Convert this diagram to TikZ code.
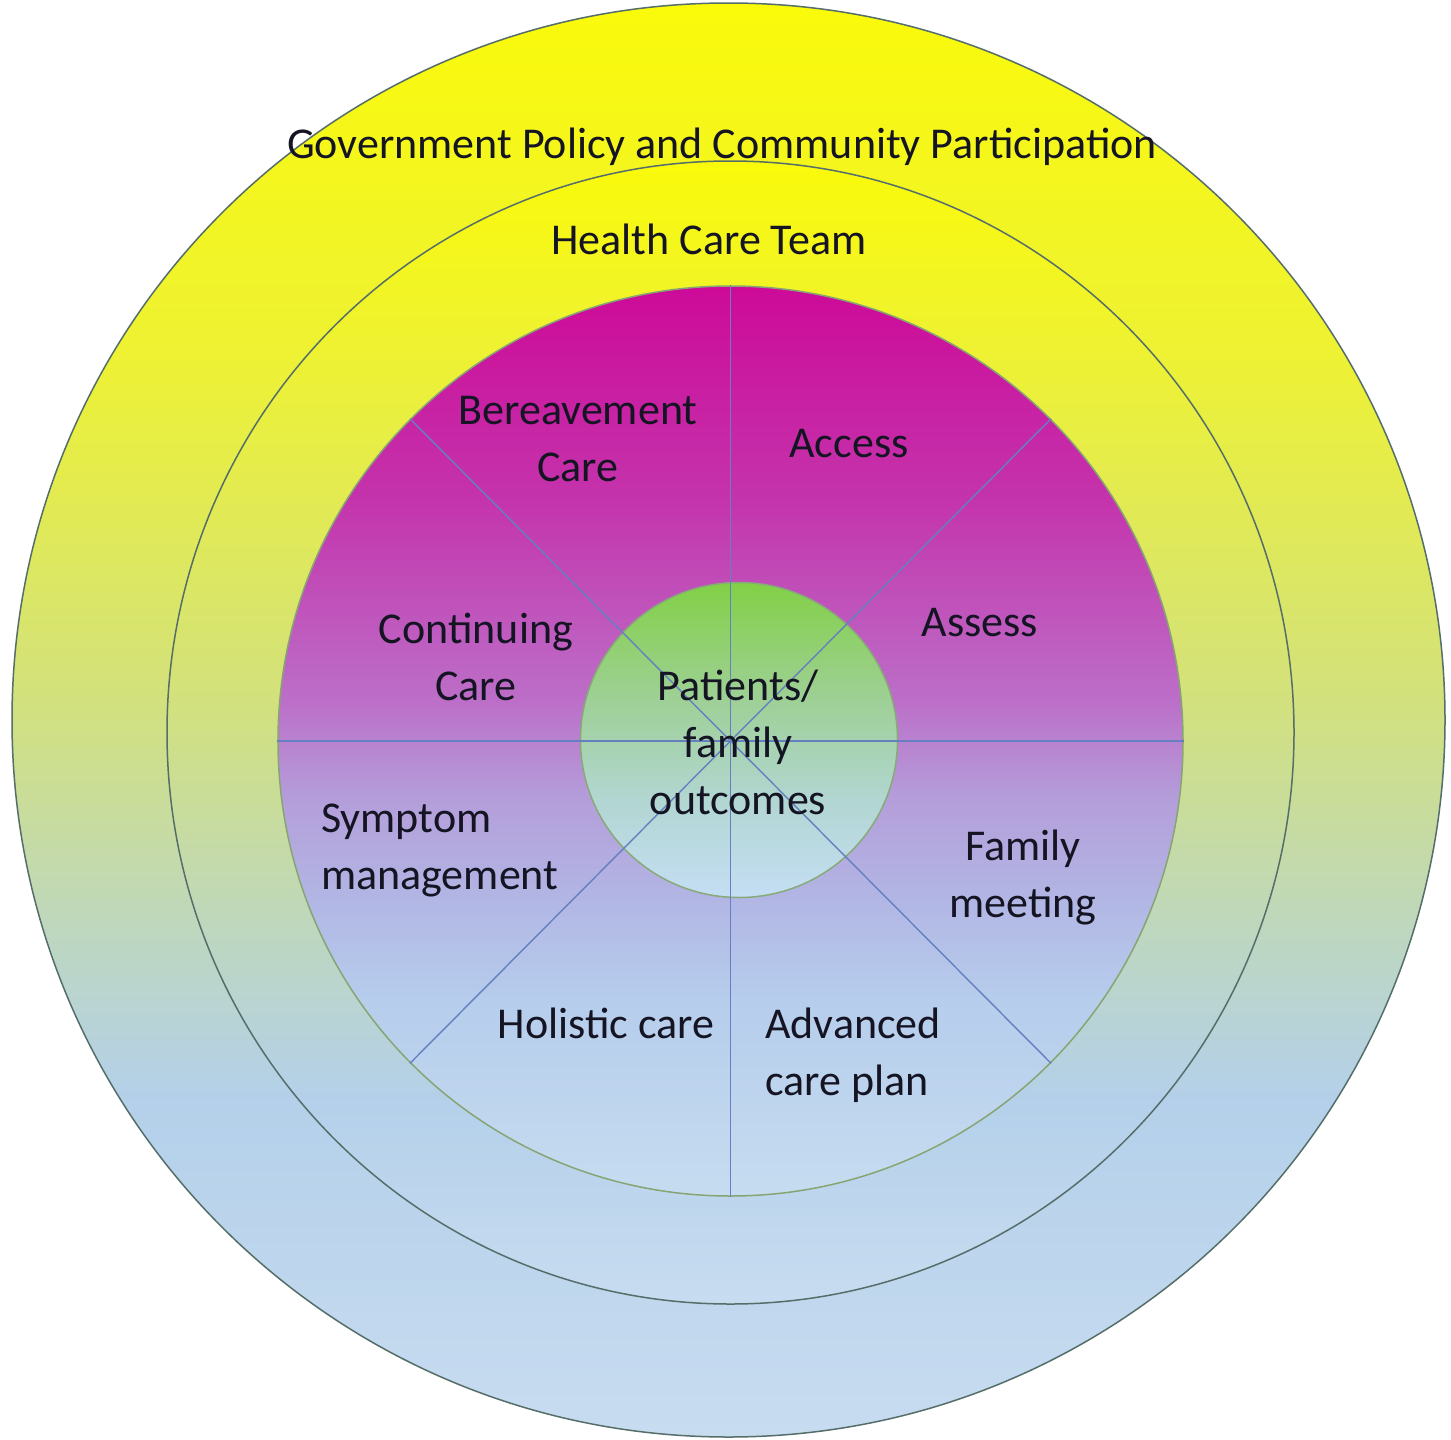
\documentclass[tikz,border=0pt]{standalone}
\usepackage{fontspec}
\setmainfont{Carlito}
\usetikzlibrary{shapes.geometric}
\definecolor{txt}{RGB}{20,20,35}
\definecolor{ringline}{RGB}{85,110,105}
\definecolor{magline}{RGB}{135,165,115}
\definecolor{grnline}{RGB}{135,170,120}
\definecolor{spoke}{RGB}{100,128,192}
% outer rings
\definecolor{oca}{RGB}{250,250,10}
\definecolor{ocb}{RGB}{238,242,50}
\definecolor{occ}{RGB}{210,225,125}
\definecolor{ocd}{RGB}{188,214,196}
\definecolor{oce}{RGB}{180,208,234}
\definecolor{ocf}{RGB}{200,220,240}
% magenta
\definecolor{mca}{RGB}{205,10,152}
\definecolor{mcb}{RGB}{196,52,172}
\definecolor{mcc}{RGB}{188,110,200}
\definecolor{mcd}{RGB}{180,158,218}
\definecolor{mce}{RGB}{178,182,228}
\definecolor{mcf}{RGB}{182,205,236}
\definecolor{mcg}{RGB}{198,220,240}
% green
\definecolor{gca}{RGB}{130,208,70}
\definecolor{gcb}{RGB}{158,208,150}
\definecolor{gcc}{RGB}{178,214,210}
\definecolor{gcd}{RGB}{196,222,244}
\pgfdeclareverticalshading{outershade}{100bp}{color(0bp)=(ocf); color(25bp)=(ocf); color(36.75bp)=(oce); color(42bp)=(ocd); color(50.7bp)=(occ); color(62.9bp)=(ocb); color(75bp)=(oca); color(100bp)=(oca)}
\pgfdeclareverticalshading{hctshade}{100bp}{color(0bp)=(ocf); color(25bp)=(ocf); color(33.9bp)=(oce); color(40.5bp)=(ocd); color(51.4bp)=(occ); color(66.7bp)=(ocb); color(75bp)=(oca); color(100bp)=(oca)}
\pgfdeclareverticalshading{magshade}{100bp}{color(0bp)=(mcg); color(25bp)=(mcg); color(35.8bp)=(mcf); color(41.3bp)=(mce); color(46.8bp)=(mcd); color(52.3bp)=(mcc); color(63.2bp)=(mcb); color(75bp)=(mca); color(100bp)=(mca)}
\pgfdeclareverticalshading{grnshade}{100bp}{color(0bp)=(gcd); color(25bp)=(gcd); color(40.4bp)=(gcc); color(56.4bp)=(gcb); color(75bp)=(gca); color(100bp)=(gca)}
\newcommand\lblfont{\fontsize{44}{57}\selectfont}
\newcommand\mylines[2]{\begin{tabular}[t]{@{}#1@{}}#2\end{tabular}}
\begin{document}
\begin{tikzpicture}[x=1pt,y=-1pt,
  ringnode/.style={ellipse, inner sep=0pt, line width=1.5pt, shade},
  lbl/.style={anchor=base, inner sep=0pt, text=txt, font=\lblfont},
  lblw/.style={anchor=base west, inner sep=0pt, text=txt, font=\lblfont},
  spokeline/.style={draw=spoke, line width=1.4pt}]
\useasboundingbox (0,0) rectangle (1451,1440);
\fill[white] (0,0) rectangle (1451,1440);
\node[ringnode, minimum width=1433pt, minimum height=1434pt, draw=ringline, shading=outershade] (gov) at (728.5,720) {};
\node[ringnode, minimum width=1127pt, minimum height=1143pt, draw=ringline, shading=hctshade] (hct) at (730.5,732.5) {};
\node[ringnode, minimum width=905pt, minimum height=910pt, draw=magline, shading=magshade] (mag) at (730.5,741) {};
\node[ringnode, minimum width=317pt, minimum height=315pt, draw=grnline, shading=grnshade] (pat) at (739,740) {};
\draw[spokeline] (mag.north) -- (mag.south);
\draw[spokeline] (mag.west) -- (mag.east);
\draw[spokeline] (mag.north west) -- (mag.south east);
\draw[spokeline] (mag.north east) -- (mag.south west);
\node[lbl] (govt) at (722,158) {Government Policy and Community Participation};
\node[lbl] (hctt) at (709,254) {Health Care Team};
\node[lbl] (ber) at (578,424) {\mylines{c}{Bereavement\\Care}};
\node[lbl] (acc) at (849,457) {Access};
\node[lbl] (ass) at (980,636) {Assess};
\node[lbl] (con) at (476,643) {\mylines{c}{Continuing\\Care}};
\node[lbl] (pft) at (738,700) {\mylines{c}{Patients/\\family\\outcomes}};
\node[lblw] (sym) at (321,832) {\mylines{l}{Symptom\\management}};
\node[lbl] (fam) at (1023,860) {\mylines{c}{Family\\meeting}};
\node[lbl] (hol) at (606,1038) {Holistic care};
\node[lblw] (adv) at (765,1038) {\mylines{l}{Advanced\\care plan}};
\end{tikzpicture}
\end{document}
